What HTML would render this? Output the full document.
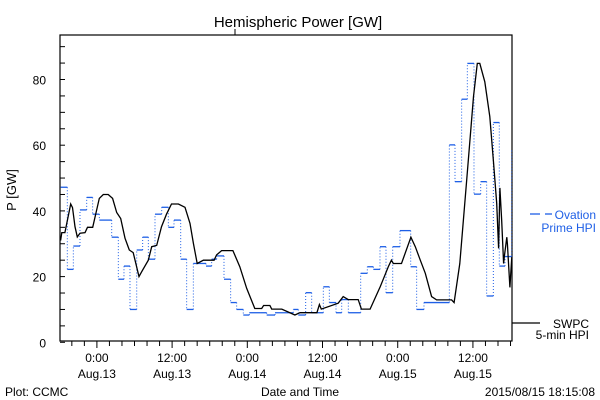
<!DOCTYPE html>
<html><head><meta charset="utf-8"><style>
body{margin:0;background:#fff}
svg{display:block;font-family:"Liberation Sans",sans-serif}
</style></head><body>
<svg id="chart" width="600" height="400" viewBox="0 0 600 400">
<rect x="0" y="0" width="600" height="400" fill="#fff"/>
<text x="298" y="27" font-size="15" text-anchor="middle">Hemispheric Power [GW]</text>
<text x="16" y="190" font-size="13" text-anchor="middle" transform="rotate(-90 16 190)">P [GW]</text>
<text x="300" y="396" font-size="12" text-anchor="middle">Date and Time</text>
<text x="5" y="396" font-size="12">Plot: CCMC</text>
<text x="595" y="396" font-size="12" text-anchor="end">2015/08/15 18:15:08</text>
<g id="axes"></g>
<g id="series"></g>
<g>
<line x1="530" y1="214" x2="540" y2="214" stroke="#1e5fe6" stroke-width="1.3"/>
<line x1="545" y1="214" x2="552" y2="214" stroke="#1e5fe6" stroke-width="1.3"/>
<text x="596" y="219" font-size="12" text-anchor="end" fill="#1e5fe6">Ovation</text>
<text x="596" y="232" font-size="12" text-anchor="end" fill="#1e5fe6">Prime HPI</text>
<line x1="512" y1="323" x2="540" y2="323" stroke="#000" stroke-width="1.2"/>
<text x="589" y="328" font-size="12" text-anchor="end">SWPC</text>
<text x="589" y="339" font-size="12" text-anchor="end">5-min HPI</text>
</g>
</svg>
<script>
// hours relative to Aug 13 00:00
const swpcTimes=[-5.8,-5.6,-5.1,-4.18,-3.9,-3.5,-3.13,-2.7,-1.9,-1.5,-0.67,0.38,1.02,1.8,2.5,3.16,3.8,4.48,5.17,5.8,6.72,7.15,8.2,8.74,9.54,10.3,11.1,11.9,13,14.05,14.85,15.4,16,17,18.7,19.1,19.9,21.7,22.8,23.9,25.2,26.3,26.6,27.6,27.9,29.5,31.6,32.4,35.1,35.5,35.8,38.5,39.3,40.1,41.7,42.2,43.6,45.2,46.5,47.0,47.3,48.6,50.1,50.8,51.6,52.4,53.4,54.2,56.6,57,57.9,59,60.1,60.7,61.1,61.9,62.7,63.3,63.8,64.1,64.3,64.6,64.9,65,65.4,65.5,65.9,66.2];
const swpcValues=[31,33.4,33.4,42.1,41,35.2,32.1,33.2,33.4,35,35,43.8,45,45,43.8,39.5,37.7,31.7,28.1,27.3,20,21.5,25,29.1,29.5,35.2,39,42.1,42.1,41.1,36.2,30.1,24,25,25,26.6,27.9,27.9,23,16.4,10.3,10.3,11.2,11.2,10.1,10.1,8.3,9,9,11.5,10.1,11.9,13.9,13,13,10.1,10.1,16.9,23,25,24,24,32,29.1,25,21,13.9,12.9,12.9,12.1,24,49.4,74.8,84.9,84.9,79.3,68.7,54.5,42.3,28.6,47,37,24,26,32,30,16.7,26];
const ovStarts=[-5.78,-4.72,-3.76,-2.70,-1.63,-0.68,0.39,2.36,3.42,4.32,5.28,6.35,7.30,8.21,9.27,10.34,11.40,12.30,13.37,14.32,15.39,17.41,18.31,19.11,20.28,21.34,22.30,23.36,24.32,26.03,27.09,28.42,31.34,32.14,33.31,34.27,36.13,37.09,38.15,39.06,40.12,42.09,43.15,44.11,45.17,46.13,47.20,48.36,50.07,51.02,52.19,56.24,57.14,58.20,59.11,60.17,61.24,62.19,63.26,64.21,65.12];
const ovValues=[47.2,22.2,29.3,40.3,44.1,39,37.2,32,19.2,23.2,10,28.1,32,25.3,39,41.1,35,37.2,25.3,10,24,23.2,25.3,26.3,19.2,12.1,10,8.3,9,9,8.3,9,10,8.3,15.1,9,16.9,12.1,9,13,9,21,23,22.2,29.1,15.1,29.1,34,23,10,12.1,60.1,48.9,74,84.9,45.1,48.9,14.1,66.9,23.2,26.1];
const ovEnd=66.18, ovLast=59;
const yTickVals=[0,20,40,60,80];
const xTickHours=[0,12,24,36,48,60];
const xTickTimes=["0:00","12:00","0:00","12:00","0:00","12:00"];
const xTickDates=["Aug.13","Aug.13","Aug.14","Aug.14","Aug.15","Aug.15"];

const L=60,R=512,T=35,B=341;
const x=h=>96.9+6.267*h;
const y=v=>342.3-3.285*v;
const NS="http://www.w3.org/2000/svg";
function mk(tag,attrs,parent){const e=document.createElementNS(NS,tag);for(const k in attrs)e.setAttribute(k,attrs[k]);parent.appendChild(e);return e;}
const ax=document.getElementById('axes'), se=document.getElementById('series');
const frame=mk('rect',{x:L,y:T,width:R-L,height:B-T,fill:'none',stroke:'#000','stroke-width':1.2},ax);


const topTick=mk('line',{x1:235,y1:29,x2:235,y2:T,stroke:'#000'},ax);


for(let v=0;v<=90;v+=5){
  const t=mk('line',{x1:L,y1:y(v),x2:L+5,y2:y(v),stroke:'#000'},ax);
  
  
}
yTickVals.forEach(v=>{
  const t=mk('text',{x:46,y:y(v)+5,'font-size':12,'text-anchor':'end'},ax);t.textContent=v;
  
  
});
for(let h=-4;h<=66;h+=2){
  const major=(h%12===0);
  const t=mk('line',{x1:x(h),y1:B,x2:x(h),y2:B+(major?7:5),stroke:'#000'},ax);
  
  
}
xTickHours.forEach((h,i)=>{
  const a=mk('text',{x:x(h),y:362,'font-size':12,'text-anchor':'middle'},ax);a.textContent=xTickTimes[i];
  
  
  const b=mk('text',{x:x(h),y:378,'font-size':12,'text-anchor':'middle'},ax);b.textContent=xTickDates[i];
  
  
});
// Ovation steps
ovStarts.forEach((s,i)=>{
  const e=i<ovStarts.length-1?ovStarts[i+1]:ovEnd;
  const hz=mk('line',{x1:x(s),y1:y(ovValues[i]),x2:x(e),y2:y(ovValues[i]),stroke:'#1e5fe6','stroke-width':1.3},se);
  
  
  const nv=i<ovStarts.length-1?ovValues[i+1]:ovLast;
  const vt=mk('line',{x1:x(e),y1:y(ovValues[i]),x2:x(e),y2:y(nv),stroke:'#1e5fe6','stroke-width':1,'stroke-dasharray':'1 2'},se);
  
  
});
const pts=swpcTimes.map((h,i)=>x(h).toFixed(1)+','+y(swpcValues[i]).toFixed(1)).join(' ');
const pl=mk('polyline',{points:pts,fill:'none',stroke:'#000','stroke-width':1.3},se);


</script>
</body></html>
